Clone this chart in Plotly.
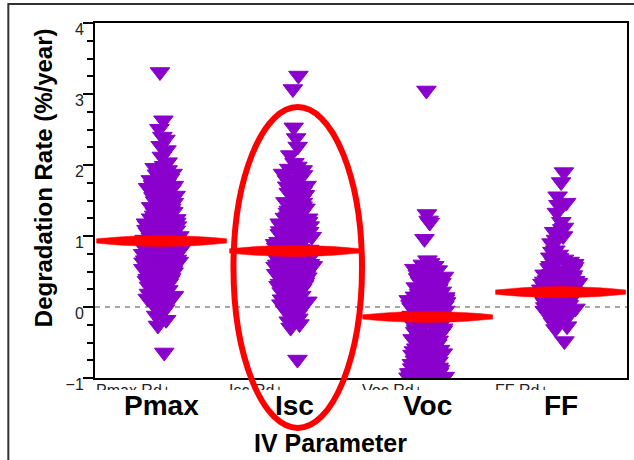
import plotly.graph_objects as go

# ---------------- data ----------------
categories = ["Pmax", "Isc", "Voc", "FF"]
tick_labels = ["Pmax Rd+", "Isc Rd+", "Voc Rd+", "FF Rd+"]

pmax_rates = [3.31, 2.63, 2.51, 2.4, 2.36, 2.27, 2.21, 2.12, 2.04, 1.99, 1.96, 1.93, 1.9, 1.87,
              1.85, 1.83, 1.79, 1.77, 1.74, 1.71, 1.69, 1.66, 1.64, 1.61, 1.58, 1.57, 1.53, 1.51,
              1.49, 1.46, 1.45, 1.41, 1.39, 1.38, 1.35, 1.33, 1.31, 1.28, 1.27, 1.25, 1.22, 1.21,
              1.18, 1.16, 1.15, 1.12, 1.11, 1.09, 1.06, 1.05, 1.03, 1.01, 0.99, 0.97, 0.96, 0.94,
              0.93, 0.91, 0.89, 0.88, 0.86, 0.84, 0.83, 0.81, 0.79, 0.78, 0.76, 0.74, 0.73, 0.71,
              0.69, 0.67, 0.66, 0.64, 0.62, 0.61, 0.59, 0.57, 0.55, 0.53, 0.51, 0.49, 0.47, 0.45,
              0.43, 0.41, 0.38, 0.36, 0.34, 0.31, 0.29, 0.27, 0.24, 0.22, 0.19, 0.17, 0.14, 0.12,
              0.09, 0.07, 0.04, 0.01, -0.03, -0.07, -0.12, -0.18, -0.26, -0.64,
              1.88, 1.81, 1.72, 1.63, 1.55, 1.47, 1.43, 1.36, 1.29, 1.24, 1.19, 1.13, 1.08, 1.04,
              1.0, 0.98, 0.95, 0.92, 0.9, 0.87, 0.85, 0.82, 0.8, 0.77, 0.75, 0.72, 0.7, 0.68, 0.65,
              0.63, 0.6, 0.58, 0.56, 0.52, 0.5, 0.46, 0.44, 0.4, 0.37, 0.33, 0.3, 0.26, 0.21, 0.16,
              0.11, 0.06, 0.02, 1.14, 1.26, 1.34, 1.42, 1.52, 1.6, 1.68, 0.96, 0.86, 0.79, 0.71,
              0.54]

isc_rates = [3.26, 3.07, 2.53, 2.38, 2.26, 2.14, 2.03, 1.98, 1.95, 1.91, 1.88, 1.84, 1.8, 1.77,
             1.73, 1.7, 1.67, 1.64, 1.61, 1.58, 1.55, 1.52, 1.49, 1.47, 1.44, 1.41, 1.39, 1.36,
             1.33, 1.31, 1.28, 1.26, 1.23, 1.21, 1.18, 1.16, 1.14, 1.11, 1.09, 1.07, 1.05, 1.02,
             1.0, 0.98, 0.96, 0.94, 0.92, 0.9, 0.88, 0.86, 0.84, 0.82, 0.8, 0.78, 0.76, 0.74,
             0.72, 0.7, 0.68, 0.66, 0.64, 0.62, 0.6, 0.58, 0.56, 0.54, 0.52, 0.5, 0.48, 0.46,
             0.44, 0.42, 0.4, 0.38, 0.36, 0.33, 0.31, 0.29, 0.26, 0.24, 0.21, 0.19, 0.16, 0.13,
             0.11, 0.08, 0.05, 0.02, -0.01, -0.04, -0.08, -0.12, -0.16, -0.2, -0.24, -0.29, -0.74,
             1.93, 1.86, 1.79, 1.71, 1.63, 1.56, 1.48, 1.42, 1.35, 1.3, 1.25, 1.2, 1.15, 1.1, 1.06,
             1.03, 0.99, 0.97, 0.93, 0.91, 0.87, 0.85, 0.81, 0.79, 0.75, 0.73, 0.69, 0.67, 0.63,
             0.61, 0.57, 0.55, 0.51, 0.47, 0.43, 0.39, 0.35, 0.3, 0.25, 0.2, 0.15, 0.1, 0.04,
             -0.02, -0.1, -0.18, 0.71, 0.65, 0.59, 0.53, 0.45, 0.37, 0.28, 1.0, 0.89, 0.83, 0.77]

voc_rates = [3.05, 1.31, 1.22, 1.19, 0.96, 0.66, 0.62, 0.58, 0.55, 0.52, 0.49, 0.46, 0.44, 0.41,
             0.38, 0.36, 0.33, 0.31, 0.28, 0.26, 0.24, 0.21, 0.19, 0.17, 0.15, 0.13, 0.11, 0.09,
             0.07, 0.05, 0.03, 0.01, -0.01, -0.03, -0.05, -0.07, -0.09, -0.11, -0.13, -0.15,
             -0.17, -0.19, -0.21, -0.23, -0.25, -0.28, -0.3, -0.33, -0.35, -0.38, -0.4, -0.43,
             -0.45, -0.48, -0.5, -0.53, -0.55, -0.58, -0.6, -0.63, -0.65, -0.68, -0.7, -0.72,
             -0.75, -0.77, -0.79, -0.82, -0.84, -0.86, -0.88, -0.9, -0.91, -0.93, -0.94, -0.95,
             -0.96, -0.97, -0.98, -0.98, -0.99, -1.0, -1.0, -1.01, -1.02,
             0.6, 0.54, 0.48, 0.43, 0.37, 0.32, 0.27, 0.22, 0.18, 0.14, 0.1, 0.06, 0.02, -0.02,
             -0.06, -0.1, -0.14, -0.18, -0.22, -0.27, -0.32, -0.37, -0.42, -0.47, -0.52, -0.57,
             -0.62, -0.67, -0.71, -0.76, -0.8, -0.85, -0.89, -0.92, -0.95, -0.97, -0.99, -1.0,
             -0.96, -0.93, 0.25, 0.2, 0.12, 0.04, -0.04, -0.12, 0.34, 0.4,
             -0.9, -0.92, -0.94, -0.95, -0.96, -0.97, -0.98, -0.99, -1.0, -1.01, -1.02, -1.03,
             -0.93, -0.97, -1.0, -1.02, 0.3, 0.16, 0.08, 0.45]

ff_rates = [1.9, 1.76, 1.56, 1.47, 1.44, 1.33, 1.2, 1.12, 1.06, 1.0, 0.95, 0.88, 0.8, 0.74, 0.7,
            0.67, 0.64, 0.61, 0.58, 0.55, 0.52, 0.5, 0.47, 0.45, 0.43, 0.41, 0.39, 0.37, 0.35,
            0.33, 0.31, 0.3, 0.28, 0.26, 0.25, 0.23, 0.22, 0.2, 0.19, 0.17, 0.16, 0.14, 0.13,
            0.11, 0.1, 0.08, 0.07, 0.05, 0.04, 0.02, 0.01, -0.01, -0.03, -0.05, -0.07, -0.09,
            -0.12, -0.15, -0.18, -0.22, -0.27, -0.31, -0.48,
            0.69, 0.62, 0.57, 0.53, 0.49, 0.46, 0.42, 0.38, 0.34, 0.32, 0.29, 0.27, 0.24, 0.21,
            0.18, 0.15, 0.12, 0.09, 0.06, 0.03, 0.0, -0.02, -0.06, -0.1, -0.14, -0.2, 0.36, 0.4,
            0.44, 0.26, 0.13, 1.1, 0.9, 0.78]

mean_rates = [0.93, 0.79, -0.14, 0.21]

y_ticks = [-1, 0, 1, 2, 3, 4]

# ---------------- styling ----------------
FONT = "Liberation Sans, Arial, Helvetica, sans-serif"
PURPLE = "#8a00cc"
RED = "#ff0000"

series = [pmax_rates, isc_rates, voc_rates, ff_rates]

fig = go.Figure()

for i, vals in enumerate(series):
    fig.add_trace(go.Box(
        y=vals, x0=i, name=categories[i],
        boxpoints="all", jitter=0.42, pointpos=0, width=0.7,
        fillcolor="rgba(0,0,0,0)", line=dict(color="rgba(0,0,0,0)", width=0),
        whiskerwidth=0,
        marker=dict(symbol="triangle-down", size=17, color=PURPLE,
                    line=dict(color=PURPLE, width=1)),
        showlegend=False, hoveron="points",
    ))

# red mean "lens" marks
prof = [-1, -0.8, -0.6, -0.4, -0.2, 0, 0.2, 0.4, 0.6, 0.8, 1]
h_mid, h_end, half_w = 0.078, 0.03, 0.49
for i, m in enumerate(mean_rates):
    xs = [i + half_w * t for t in prof]
    top = [m + h_end + (h_mid - h_end) * (1 - t * t) for t in prof]
    bot = [m - h_end - (h_mid - h_end) * (1 - t * t) for t in prof]
    fig.add_trace(go.Scatter(
        x=xs + xs[::-1], y=top + bot[::-1], mode="lines", fill="toself",
        fillcolor=RED, line=dict(color=RED, width=0.5), showlegend=False,
        hoverinfo="skip",
    ))

# pixel helpers for the plot box (x 95..629, y 23..378)
def px_x(p):
    return (p - 95) / 534.0

def px_y(p):
    return (378 - p) / 355.0

annotations = []
for i, c in enumerate(categories):
    annotations.append(dict(x=i, y=px_y(406), xref="x", yref="paper", text="<b>%s</b>" % c,
                            showarrow=False, xanchor="center", yanchor="middle",
                            font=dict(family=FONT, size=28, color="black")))
annotations.append(dict(x=px_x(331), y=px_y(443), xref="paper", yref="paper",
                        text="<b>IV Parameter</b>", showarrow=False,
                        xanchor="center", yanchor="middle",
                        font=dict(family=FONT, size=25, color="black")))
annotations.append(dict(x=px_x(43), y=px_y(178), xref="paper", yref="paper",
                        text="<b>Degradation Rate (%/year)</b>", showarrow=False,
                        textangle=-90, xanchor="center", yanchor="middle",
                        font=dict(family=FONT, size=24, color="black")))

shapes = [
    # zero reference line
    dict(type="line", xref="paper", x0=0, x1=1, yref="y", y0=0, y1=0,
         line=dict(color="#888888", width=1.5, dash="5px,5px"), layer="below"),
    # white cover hiding the lower half of the small category labels
    dict(type="rect", xref="paper", yref="paper", x0=-0.05, x1=1.05,
         y0=px_y(470), y1=px_y(390), fillcolor="white", line=dict(width=0), layer="above"),
    # red highlight ellipse around Isc
    dict(type="circle", xref="paper", yref="paper", x0=px_x(234), x1=px_x(363),
         y0=px_y(428), y1=px_y(107), line=dict(color=RED, width=6), layer="above"),
    # outer frame
    dict(type="rect", xref="paper", yref="paper", x0=px_x(8), x1=px_x(700),
         y0=px_y(520), y1=px_y(4), line=dict(color="#333333", width=2), layer="above"),
]

fig.update_layout(
    width=634, height=460,
    margin=dict(l=95, r=5, t=23, b=82),
    paper_bgcolor="white", plot_bgcolor="white",
    showlegend=False,
    font=dict(family=FONT, color="black"),
    xaxis=dict(type="linear", range=[-0.5, 3.5], tickvals=[-0.5, 0.5, 1.5, 2.5],
               ticktext=tick_labels, ticks="", ticklabelposition="outside right",
               ticklabelstandoff=-3,
               tickfont=dict(family=FONT, size=16, color="#222222"),
               showline=True, linewidth=2, linecolor="black", mirror=True,
               showgrid=False, zeroline=False),
    yaxis=dict(range=[-1, 4], tickvals=y_ticks, ticks="outside", ticklen=10, tickwidth=2,
               tickcolor="black",
               minor=dict(dtick=0.25, ticks="outside", ticklen=6, tickwidth=2,
                          tickcolor="black", showgrid=False),
               tickfont=dict(family=FONT, size=16, color="#222222"),
               ticklabelshift=6, ticklabelstandoff=-4,
               showline=True, linewidth=2, linecolor="black", mirror=True,
               showgrid=False, zeroline=False),
    annotations=annotations,
    shapes=shapes,
)

fig.write_html("out.html")
